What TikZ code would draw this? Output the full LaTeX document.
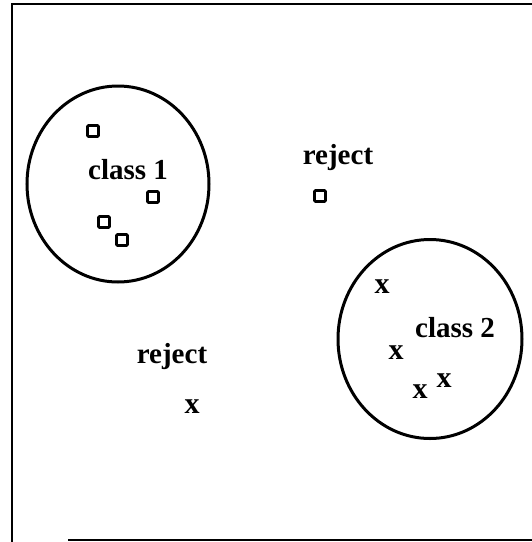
\documentclass[tikz,border=0pt]{standalone}
\usepackage{fontspec}
\setmainfont{Liberation Serif}
\usetikzlibrary{shapes.geometric}

\begin{document}
\begin{tikzpicture}[x=1pt,y=-1pt]
	\useasboundingbox (0,0) rectangle (532,542);
	% frame
	\draw [line width=2.8pt] (532,4) -- (12,4) -- (12,542);
	\draw [line width=2pt] (68,540) -- (532,540);
	% classes
	\begin{scope}[every node/.style={ellipse,draw,line width=3pt,inner sep=0pt}]
	\node [minimum width=182pt,minimum height=196pt] (C1) at (118,184) {};
	\node [minimum width=184pt,minimum height=199pt] (C2) at (430,339) {};
	\end{scope}
	% squares
	\begin{scope}[every node/.style={draw,line width=2.6pt,minimum size=11pt,inner sep=0pt,rounded corners=1pt}]
	\node (A) at (93,131) {};
	\node (B) at (153,197) {};
	\node (C) at (104,222) {};
	\node (D) at (122,240) {};
	\node (E) at (320,196) {};
	\end{scope}
	% crosses
	\begin{scope}[every node/.style={font=\fontsize{30}{34}\selectfont\bfseries,inner sep=0pt}]
	\node (F) at (382,287) {x};
	\node (G) at (396,353) {x};
	\node (H) at (420,392) {x};
	\node (I) at (444,381) {x};
	\node (J) at (192,407) {x};
	\end{scope}
	% labels
	\begin{scope}[every node/.style={font=\fontsize{29}{34}\selectfont\bfseries,inner sep=0pt}]
	\node (L1) at (128,170) {class 1};
	\node (L2) at (455,328) {class 2};
	\node (R1) at (338,158) {reject};
	\node (R2) at (172,357) {reject};
	\end{scope}
\end{tikzpicture}
\end{document}
